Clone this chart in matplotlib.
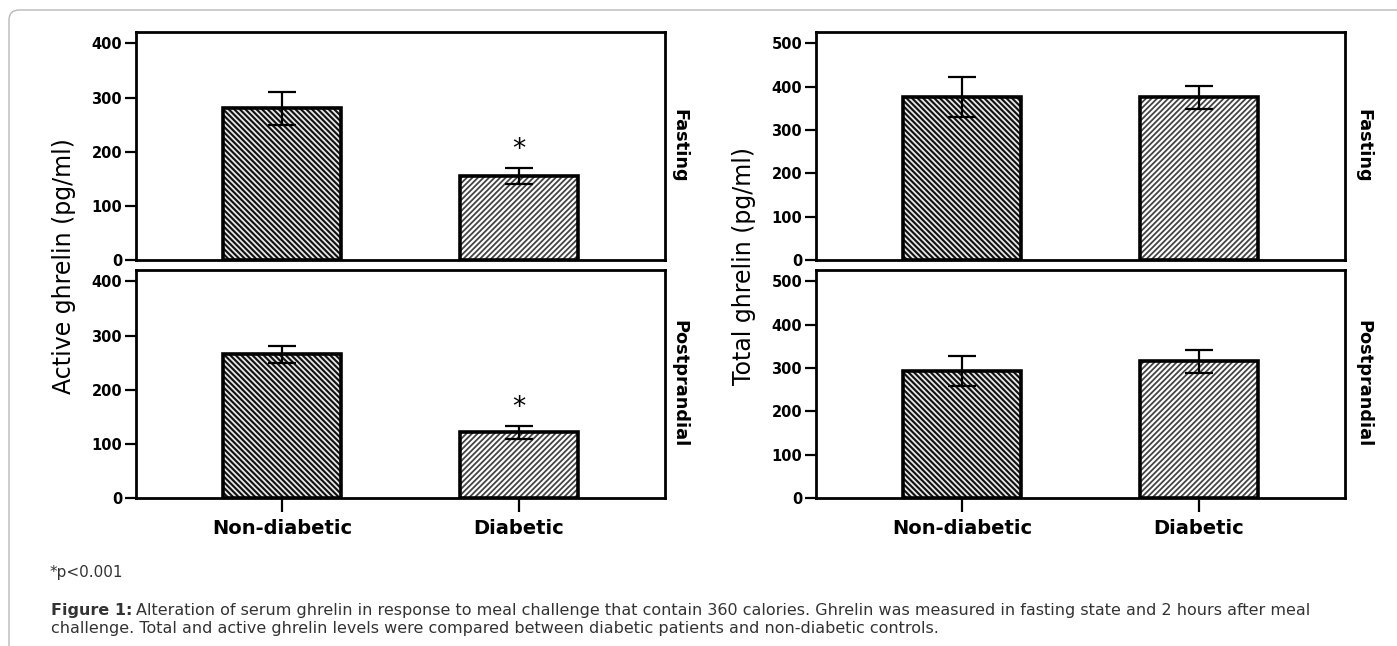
import matplotlib
matplotlib.use("Agg")
import matplotlib.pyplot as plt
from matplotlib.patches import FancyBboxPatch
from matplotlib.transforms import IdentityTransform

# values (mean, SEM)
groups = ["Non-diabetic", "Diabetic"]
active_fasting = [280, 155]
active_fasting_err = [30, 14]
active_post = [265, 121]
active_post_err = [15, 12]
total_fasting = [376, 375]
total_fasting_err = [46, 26]
total_post = [293, 315]
total_post_err = [34, 26]
active_ticks = [0, 100, 200, 300, 400]
total_ticks = [0, 100, 200, 300, 400, 500]

W, H = 1397, 646
plt.rcParams["hatch.linewidth"] = 1.3
fig = plt.figure(figsize=(W / 100, H / 100), dpi=100)


def px_axes(x0, y0, x1, y1):
    # pixel box measured from top-left -> figure fractions
    return fig.add_axes([x0 / W, (H - y1) / H, (x1 - x0) / W, (y1 - y0) / H])


def draw_panel(ax, vals, errs, ticks, ymax, stars=False, bottom=False):
    x = [0, 1]
    ax.bar(x[0], vals[0], width=0.5, color="#111111", edgecolor="#e8e8e8",
           hatch="\\" * 6, linewidth=0, zorder=2)
    ax.bar(x[1], vals[1], width=0.5, color="white", edgecolor="#444444",
           hatch="/" * 6, linewidth=0, zorder=2)
    ax.bar(x, vals, width=0.5, fill=False, edgecolor="black", linewidth=2.6, zorder=3)
    ax.errorbar(x, vals, yerr=errs, fmt="none", ecolor="black", elinewidth=1.6,
                capsize=10, capthick=1.6, zorder=4)
    if stars:
        ax.annotate("*", xy=(1, vals[1] + errs[1]), xytext=(0, 8),
                    textcoords="offset points", ha="center", va="baseline",
                    fontsize=19)
    ax.set_xlim(-0.615, 1.615)
    ax.set_ylim(0, ymax)
    ax.set_yticks(ticks)
    ax.tick_params(axis="y", direction="out", length=8, width=1.6, pad=2,
                   labelsize=10.5)
    for lab in ax.get_yticklabels():
        lab.set_fontweight("bold")
    if bottom:
        ax.set_xticks(x)
        ax.set_xticklabels(groups, fontsize=14, fontweight="bold")
        ax.tick_params(axis="x", direction="out", length=10, width=1.6, pad=5)
    else:
        ax.set_xticks([])
    for s in ax.spines.values():
        s.set_linewidth(2.0)


ax1 = px_axes(136, 32, 665, 260)
ax2 = px_axes(136, 270, 665, 498)
ax3 = px_axes(816, 32, 1345, 260)
ax4 = px_axes(816, 270, 1345, 498)

draw_panel(ax1, active_fasting, active_fasting_err, active_ticks, 421, stars=True)
draw_panel(ax2, active_post, active_post_err, active_ticks, 421, stars=True, bottom=True)
draw_panel(ax3, total_fasting, total_fasting_err, total_ticks, 526)
draw_panel(ax4, total_post, total_post_err, total_ticks, 526, bottom=True)

# axis titles
fig.text(64 / W, 1 - 266 / H, "Active ghrelin (pg/ml)", rotation=90,
         ha="center", va="center", fontsize=17)
fig.text(744 / W, 1 - 266 / H, "Total ghrelin (pg/ml)", rotation=90,
         ha="center", va="center", fontsize=17)
for xx in [679, 1363]:
    fig.text(xx / W, 1 - 146 / H, "Fasting", rotation=270, ha="center",
             va="center", fontsize=12.8, fontweight="bold")
    fig.text(xx / W, 1 - 384 / H, "Postprandial", rotation=270, ha="center",
             va="center", fontsize=12.8, fontweight="bold")

# footnote and caption
cap_col = "#333333"
fig.text(50 / W, 1 - 573 / H, "*p<0.001", fontsize=11, color=cap_col,
         ha="left", va="center")
t_bold = fig.text(51 / W, 1 - 611 / H, "Figure 1:", fontsize=11.5,
                  fontweight="bold", color=cap_col, ha="left", va="center")
fig.canvas.draw()
bb = t_bold.get_window_extent()
fig.text((bb.x1 + 4) / W, 1 - 611 / H,
         "Alteration of serum ghrelin in response to meal challenge that contain "
         "360 calories. Ghrelin was measured in fasting state and 2 hours after meal",
         fontsize=11.5, color=cap_col, ha="left", va="center")
fig.text(51 / W, 1 - 629 / H,
         "challenge. Total and active ghrelin levels were compared between diabetic "
         "patients and non-diabetic controls.",
         fontsize=11.5, color=cap_col, ha="left", va="center")

# light rounded frame of the page
frame = FancyBboxPatch((9, -30), 1450, H - 10 + 30,
                       boxstyle="round,pad=0,rounding_size=10",
                       transform=IdentityTransform(), fill=False,
                       edgecolor="#b8b8b8", linewidth=1.0)
fig.patches.append(frame)

fig.savefig("out.png", dpi=100)
